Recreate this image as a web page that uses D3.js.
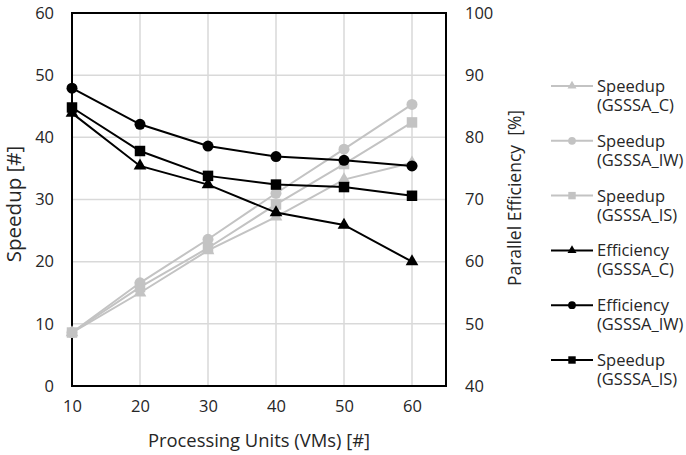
<!DOCTYPE html>
<html lang="en">
  <head>
    <meta charset="utf-8">
    <title>Speedup and efficiency</title>
    <script src="https://d3js.org/d3.v7.min.js"></script>
    <style>
      body { margin: 0; background: #fff; }
      text { font-family: "Open Sans", sans-serif; fill: #262626; }
    </style>
  </head>
  <body>
    <script type="text/javascript">

      var w = 686;
      var h = 455;
      var margin = {top: 13, right: 240, bottom: 69, left: 72};
      var innerWidth = w - margin.left - margin.right;
      var innerHeight = h - margin.top - margin.bottom;

      // data
      var units = [10, 20, 30, 40, 50, 60];
      var speedupC  = [8.6, 15.0, 21.8, 27.2, 33.2, 35.9];
      var speedupIW = [8.6, 16.6, 23.6, 31.0, 38.1, 45.3];
      var speedupIS = [8.6, 15.9, 22.2, 29.2, 35.7, 42.4];
      var effC  = [83.9, 75.4, 72.4, 67.9, 65.9, 60.0];
      var effIW = [87.9, 82.1, 78.6, 76.9, 76.3, 75.4];
      var effIS = [84.8, 77.8, 73.8, 72.4, 72.0, 70.6];
      var leftTicks = [0, 10, 20, 30, 40, 50, 60];
      var rightTicks = [40, 50, 60, 70, 80, 90, 100];

      var grey = "#c3c3c3";
      var series = [
        {name: ["Speedup", "(GSSSA_C)"],    vals: speedupC,  axis: "left",  color: grey,   shape: d3.symbolTriangle},
        {name: ["Speedup", "(GSSSA_IW)"],   vals: speedupIW, axis: "left",  color: grey,   shape: d3.symbolCircle},
        {name: ["Speedup", "(GSSSA_IS)"],   vals: speedupIS, axis: "left",  color: grey,   shape: d3.symbolSquare},
        {name: ["Efficiency", "(GSSSA_C)"], vals: effC,      axis: "right", color: "#000", shape: d3.symbolTriangle},
        {name: ["Efficiency", "(GSSSA_IW)"],vals: effIW,     axis: "right", color: "#000", shape: d3.symbolCircle},
        {name: ["Speedup", "(GSSSA_IS)"],   vals: effIS,     axis: "right", color: "#000", shape: d3.symbolSquare}
      ];

      var svg = d3.select("body")
          .append("svg")
          .attr("width", w)
          .attr("height", h);

      var g = svg.append("g")
          .attr("transform", "translate(" + margin.left + "," + margin.top + ")");

      var x = d3.scaleLinear().domain([10, 65]).range([0, innerWidth]);
      var yL = d3.scaleLinear().domain([0, 60]).range([innerHeight, 0]);
      var yR = d3.scaleLinear().domain([40, 100]).range([innerHeight, 0]);

      // grid
      g.append("g")
        .attr("class", "grid")
        .selectAll("line.v")
        .data(units.slice(1))
        .enter().append("line")
          .attr("x1", d => x(d)).attr("x2", d => x(d))
          .attr("y1", 0).attr("y2", innerHeight);
      g.select(".grid")
        .selectAll("line.h")
        .data(leftTicks.slice(1, -1))
        .enter().append("line")
          .attr("x1", 0).attr("x2", innerWidth)
          .attr("y1", d => yL(d)).attr("y2", d => yL(d));
      g.selectAll(".grid line")
        .attr("stroke", "#d9d9d9")
        .attr("stroke-width", 1.5);

      // axes (labels only, frame drawn below)
      var xAxis = d3.axisBottom(x).tickValues(units).tickSize(0).tickPadding(14);
      var yAxisL = d3.axisLeft(yL).tickValues(leftTicks).tickSize(0).tickPadding(18);
      var yAxisR = d3.axisRight(yR).tickValues(rightTicks).tickSize(0).tickPadding(19);

      g.append("g").attr("transform", "translate(0," + innerHeight + ")").call(xAxis);
      g.append("g").call(yAxisL);
      g.append("g").attr("transform", "translate(" + innerWidth + ",0)").call(yAxisR);
      g.selectAll(".domain").remove();
      g.selectAll(".tick text")
        .attr("font-size", 16.5)
        .attr("font-family", "Open Sans")
        .attr("fill", "#262626");

      // frame
      g.append("rect")
        .attr("width", innerWidth)
        .attr("height", innerHeight)
        .attr("fill", "none")
        .attr("stroke", "#000")
        .attr("stroke-width", 2);

      // axis titles
      svg.append("text")
        .attr("x", 259)
        .attr("y", 447)
        .attr("text-anchor", "middle")
        .attr("font-size", 18.4)
        .text("Processing Units (VMs) [#]");
      svg.append("text")
        .attr("transform", "translate(21,204) rotate(-90)")
        .attr("text-anchor", "middle")
        .attr("font-size", 20.5)
        .text("Speedup [#]");
      svg.append("text")
        .attr("transform", "translate(521,198) rotate(-90)")
        .attr("text-anchor", "middle")
        .attr("font-size", 17.5)
        .style("white-space", "pre")
        .text("Parallel Efficiency  [%]");

      // lines and markers
      var line = d3.line();
      var markerSize = {circle: 95, square: 110, triangle: 70};

      function symSize(shape, big) {
        var k = shape === d3.symbolCircle ? "circle" : shape === d3.symbolSquare ? "square" : "triangle";
        return big ? markerSize[k] : markerSize[k] * 0.5;
      }

      series.forEach(function(s) {
        var yS = s.axis === "left" ? yL : yR;
        var pts = units.map((u, i) => [x(u), yS(s.vals[i])]);
        g.append("path")
          .attr("d", line(pts))
          .attr("fill", "none")
          .attr("stroke", s.color)
          .attr("stroke-width", 2);
        g.selectAll(null)
          .data(pts)
          .enter().append("path")
            .attr("transform", d => "translate(" + d[0] + "," + d[1] + ")")
            .attr("d", d3.symbol().type(s.shape).size(symSize(s.shape, true)))
            .attr("fill", s.color);
      });

      // legend, two-line labels as one text each
      var legend = svg.append("g").attr("transform", "translate(551,86)");
      series.forEach(function(s, i) {
        var row = legend.append("g").attr("transform", "translate(0," + (i * 54.8) + ")");
        row.append("line")
          .attr("x1", 0).attr("x2", 42)
          .attr("stroke", s.color)
          .attr("stroke-width", 2);
        row.append("path")
          .attr("transform", "translate(21,0)")
          .attr("d", d3.symbol().type(s.shape).size(symSize(s.shape, false)))
          .attr("fill", s.color);
        var t = row.append("text")
          .attr("y", 6)
          .attr("font-size", 16.5);
        t.append("tspan").attr("x", 46).text(s.name[0]);
        t.append("tspan").attr("x", 46).attr("dy", 19).text(s.name[1]);
      });

    </script>
  </body>
</html>
